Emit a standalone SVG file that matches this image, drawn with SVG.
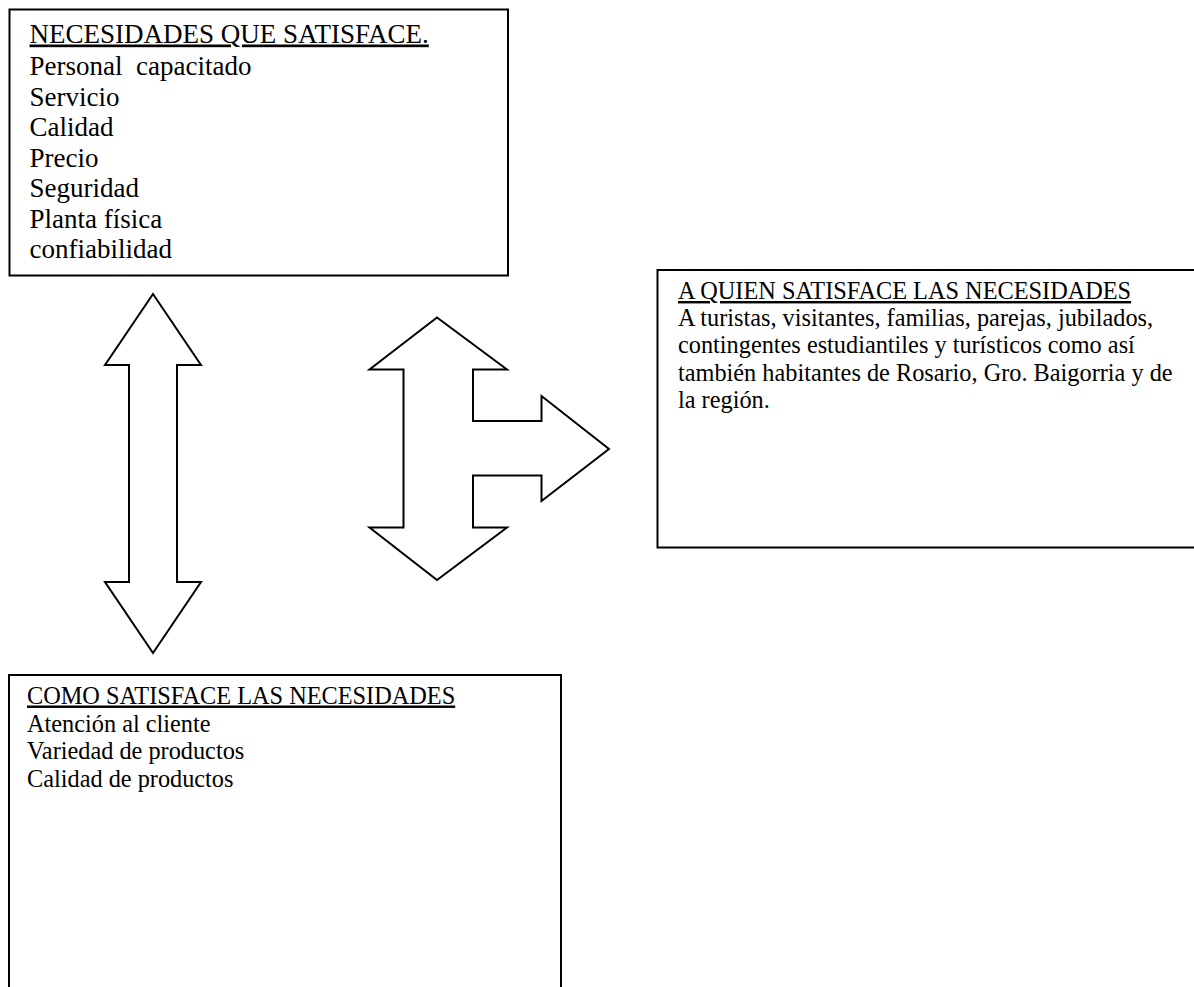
<svg xmlns="http://www.w3.org/2000/svg" width="1194" height="987" viewBox="0 0 1194 987">
<style>
.box{fill:#fff;stroke:#000;stroke-width:2}
.arrow{fill:#fff;stroke:#000;stroke-width:2;stroke-linejoin:miter}
text{font-family:"Liberation Serif","Times New Roman",serif;fill:#000}
.t1{font-size:27px}
.t2{font-size:24.3px}
.h{text-decoration:underline}
</style>
<rect width="1194" height="987" fill="#fff"/>
<g id="node-necesidades">
<rect class="box" x="9.5" y="9.5" width="498.5" height="266"/>
<text class="t1 h" x="29.5" y="42.5">NECESIDADES QUE SATISFACE.</text>
<text class="t1" x="29.5" y="75" xml:space="preserve">Personal  capacitado</text>
<text class="t1" x="29.5" y="105.5">Servicio</text>
<text class="t1" x="29.5" y="136">Calidad</text>
<text class="t1" x="29.5" y="166.5">Precio</text>
<text class="t1" x="29.5" y="197">Seguridad</text>
<text class="t1" x="29.5" y="227.5">Planta física</text>
<text class="t1" x="29.5" y="258">confiabilidad</text>
</g>
<g id="node-a-quien">
<rect class="box" x="657.5" y="270" width="560" height="277.5"/>
<text class="t2 h" x="678" y="299">A QUIEN SATISFACE LAS NECESIDADES</text>
<text class="t2" x="678" y="325.5">A turistas, visitantes, familias, parejas, jubilados,</text>
<text class="t2" x="678" y="353">contingentes estudiantiles y turísticos como así</text>
<text class="t2" x="678" y="380.5">también habitantes de Rosario, Gro. Baigorria y de</text>
<text class="t2" x="678" y="408">la región.</text>
</g>
<g id="node-como">
<rect class="box" x="9" y="675" width="552" height="330"/>
<text class="t2 h" x="27" y="703.5">COMO SATISFACE LAS NECESIDADES</text>
<text class="t2" x="27" y="731.5">Atención al cliente</text>
<text class="t2" x="27" y="759">Variedad de productos</text>
<text class="t2" x="27" y="786.5">Calidad de productos</text>
</g>
<g id="connectors">
<polygon class="arrow" points="153,294 201,365 177,365 177,582 201,582 153,653 105,582 129,582 129,365 105,365"/>
<polygon class="arrow" points="437,317.5 507,369.5 473,369.5 473,421 541.5,421 541.5,396 609,449 541.5,501 541.5,475.5 473,475.5 473,527.5 507,527.5 437,580 369.5,527.5 403.5,527.5 403.5,369.5 369.5,369.5"/>
</g>
</svg>
